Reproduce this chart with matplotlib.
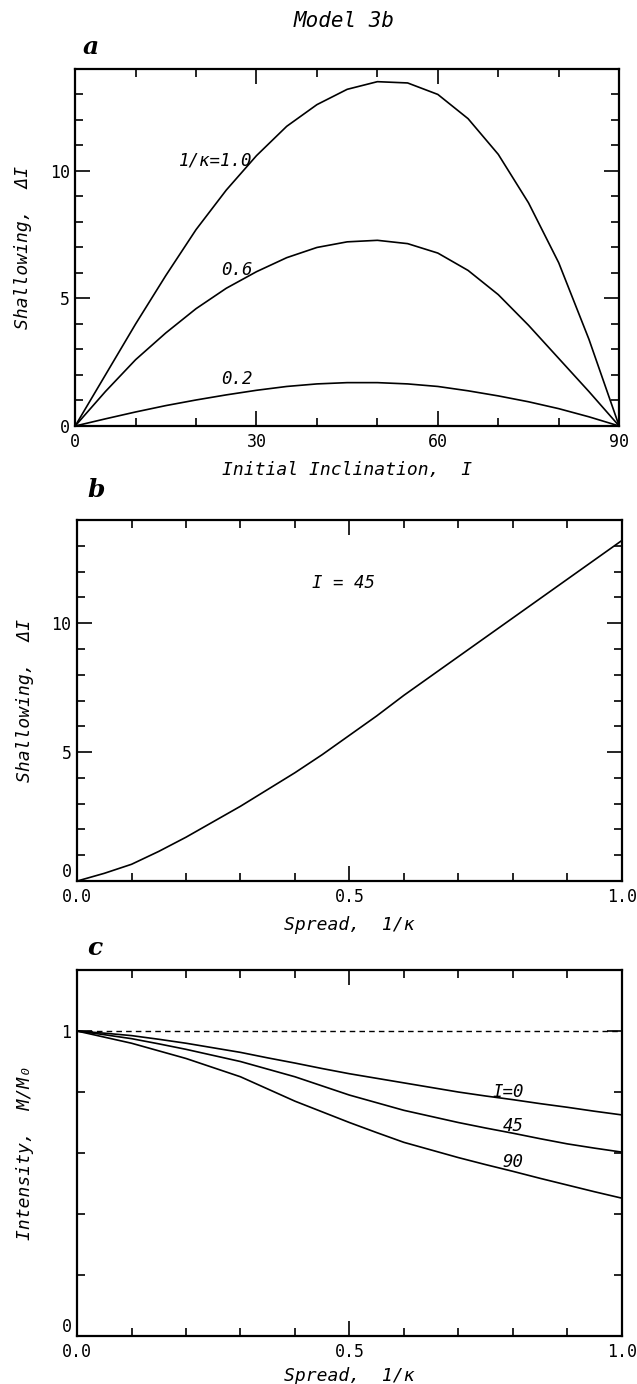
import matplotlib
matplotlib.use("Agg")
import matplotlib.pyplot as plt
import numpy as np
from matplotlib.ticker import MultipleLocator

# panel a: shallowing vs initial inclination, one curve per spread
incl = [0, 5, 10, 15, 20, 25, 30, 35, 40, 45, 50, 55, 60, 65, 70, 75, 80, 85, 90]
shallow_k10 = [0, 2.0, 4.0, 5.9, 7.7, 9.25, 10.6, 11.75, 12.6, 13.2, 13.5, 13.45, 13.0, 12.05, 10.65, 8.75, 6.4, 3.4, 0]
shallow_k06 = [0, 1.35, 2.6, 3.65, 4.6, 5.4, 6.05, 6.6, 7.0, 7.22, 7.28, 7.15, 6.78, 6.1, 5.15, 3.95, 2.65, 1.35, 0]
shallow_k02 = [0, 0.28, 0.55, 0.8, 1.02, 1.22, 1.4, 1.55, 1.65, 1.7, 1.7, 1.65, 1.55, 1.38, 1.18, 0.95, 0.68, 0.36, 0]

# panel b: shallowing vs spread at I = 45
spread = [0, 0.05, 0.1, 0.15, 0.2, 0.25, 0.3, 0.35, 0.4, 0.45, 0.5,
          0.55, 0.6, 0.65, 0.7, 0.75, 0.8, 0.85, 0.9, 0.95, 1.0]
shallow_i45 = [0, 0.3, 0.65, 1.15, 1.7, 2.3, 2.9, 3.55, 4.2, 4.9, 5.65,
               6.4, 7.2, 7.95, 8.7, 9.45, 10.2, 10.95, 11.7, 12.45, 13.2]

# panel c: intensity vs spread
intens_i0 = [1.0, 0.993, 0.985, 0.973, 0.96, 0.945, 0.93, 0.912, 0.895, 0.877, 0.86,
             0.845, 0.83, 0.815, 0.80, 0.787, 0.775, 0.762, 0.75, 0.737, 0.725]
intens_i45 = [1.0, 0.988, 0.975, 0.958, 0.94, 0.92, 0.90, 0.875, 0.85, 0.82, 0.79,
              0.765, 0.74, 0.72, 0.70, 0.682, 0.665, 0.647, 0.63, 0.616, 0.603]
intens_i90 = [1.0, 0.98, 0.96, 0.935, 0.91, 0.88, 0.85, 0.81, 0.77, 0.735, 0.70,
              0.667, 0.635, 0.61, 0.585, 0.562, 0.54, 0.517, 0.495, 0.473, 0.452]

plt.rcParams["font.family"] = "DejaVu Sans Mono"
plt.rcParams["font.size"] = 12

def style_axes(ax):
  for s in ax.spines.values():
    s.set_linewidth(1.6)
  ax.tick_params(which="both", direction="in", top=True, right=True, width=1.2, labelsize=12)
  ax.tick_params(which="major", length=11, pad=4)
  ax.tick_params(which="minor", length=6)
  ax.tick_params(axis="x", which="major", pad=5)

def lift_zero(ax):
  # the y "0" sits just above the x "0.0", as in the original
  fig.canvas.draw()
  ax.get_yticklabels()[0].set_va("bottom")

lab = dict(fontsize=13, fontstyle="italic")
txt = dict(fontsize=12.5, fontstyle="italic", ha="right", va="center")
letter = dict(fontsize=18, fontweight="bold", fontstyle="italic", family="DejaVu Serif")

fig = plt.figure(figsize=(6.37, 13.84), dpi=100)
fig.text(0.54, 0.985, "Model 3b", fontsize=15, fontstyle="italic", ha="center", va="center")

# a
ax1 = fig.add_axes([0.118, 0.6922, 0.854, 0.258])
ax1.plot(incl, shallow_k10, color="black", lw=1.2)
ax1.plot(incl, shallow_k06, color="black", lw=1.2)
ax1.plot(incl, shallow_k02, color="black", lw=1.2)
ax1.set_xlim(0, 90)
ax1.set_ylim(0, 14)
ax1.set_xticks([0, 30, 60, 90])
ax1.set_yticks([0, 5, 10])
ax1.xaxis.set_minor_locator(MultipleLocator(10))
ax1.yaxis.set_minor_locator(MultipleLocator(1))
style_axes(ax1)
ax1.set_xlabel("Initial Inclination,  I", **lab)
ax1.set_ylabel("Shallowing,  ΔI", **lab)
ax1.xaxis.set_label_coords(0.5, -0.097)
ax1.yaxis.set_label_coords(-0.079, 0.5)
ax1.text(29.3, 10.4, "1/κ=1.0", **txt)
ax1.text(29.3, 6.1, "0.6", **txt)
ax1.text(29.3, 1.85, "0.2", **txt)
fig.text(83 / 637, 1 - 47 / 1384, "a", ha="left", va="center", **letter)

# b
ax2 = fig.add_axes([0.121, 0.3634, 0.855, 0.2609])
ax2.plot(spread, shallow_i45, color="black", lw=1.2)
ax2.set_xlim(0, 1)
ax2.set_ylim(0, 14)
ax2.set_xticks([0, 0.5, 1.0])
ax2.set_xticklabels(["0.0", "0.5", "1.0"])
ax2.set_yticks([0, 5, 10])
ax2.xaxis.set_minor_locator(MultipleLocator(0.1))
ax2.yaxis.set_minor_locator(MultipleLocator(1))
style_axes(ax2)
ax2.set_xlabel("Spread,  1/κ", **lab)
ax2.set_ylabel("Shallowing,  ΔI", **lab)
ax2.xaxis.set_label_coords(0.5, -0.098)
ax2.yaxis.set_label_coords(-0.079, 0.5)
ax2.text(0.49, 11.55, "I = 45", fontsize=12.5, fontstyle="italic", ha="center", va="center")
fig.text(87 / 637, 1 - 490 / 1384, "b", ha="left", va="center", **letter)

# c
ax3 = fig.add_axes([0.121, 0.0347, 0.855, 0.2644])
ax3.plot([0, 1], [1, 1], color="black", lw=1.0, ls=(0, (4, 3)))
ax3.plot(spread, intens_i0, color="black", lw=1.2)
ax3.plot(spread, intens_i45, color="black", lw=1.2)
ax3.plot(spread, intens_i90, color="black", lw=1.2)
ax3.set_xlim(0, 1)
ax3.set_ylim(0, 1.2)
ax3.set_xticks([0, 0.5, 1.0])
ax3.set_xticklabels(["0.0", "0.5", "1.0"])
ax3.set_yticks([0, 1])
ax3.xaxis.set_minor_locator(MultipleLocator(0.1))
ax3.yaxis.set_minor_locator(MultipleLocator(0.2))
style_axes(ax3)
ax3.set_xlabel("Spread,  1/κ", **lab)
ax3.set_ylabel("Intensity,  M/M₀", **lab)
ax3.xaxis.set_label_coords(0.5, -0.086)
ax3.yaxis.set_label_coords(-0.079, 0.5)
ax3.text(0.82, 0.80, "I=0", **txt)
ax3.text(0.82, 0.69, "45", **txt)
ax3.text(0.82, 0.57, "90", **txt)
fig.text(87 / 637, 1 - 948 / 1384, "c", ha="left", va="center", **letter)

lift_zero(ax2)
lift_zero(ax3)

fig.savefig("out.png", dpi=100)
plt.close(fig)
